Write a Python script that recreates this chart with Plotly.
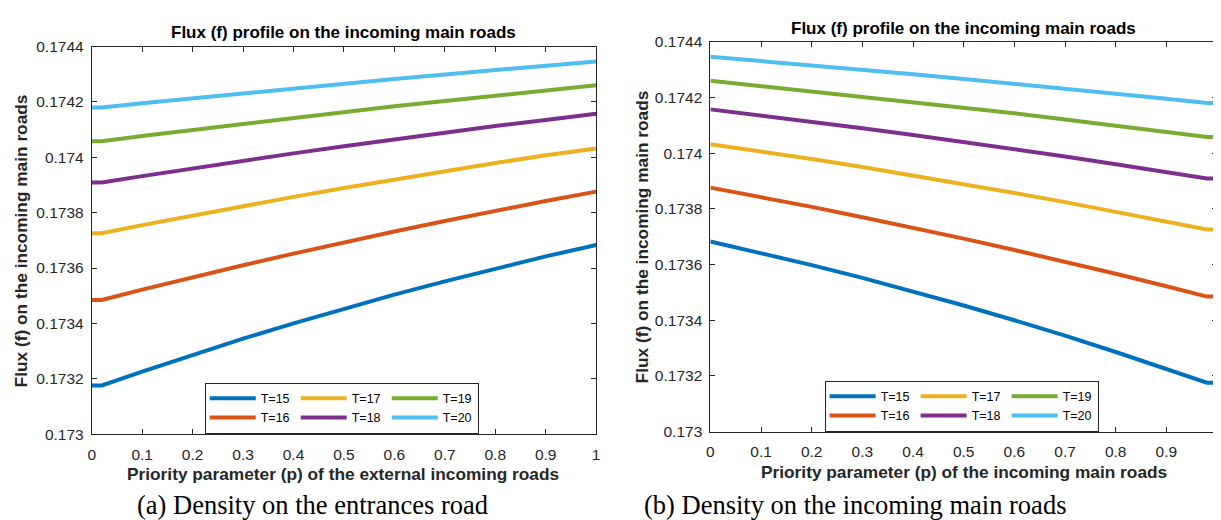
import plotly.graph_objects as go

# ---------------- data ----------------
p_left = [0.0, 0.02, 0.1, 0.2, 0.3, 0.4, 0.5, 0.6, 0.7, 0.8, 0.9, 1.0]
f_left_T15 = [0.173176, 0.173176, 0.173226, 0.173286, 0.173345, 0.1734, 0.173453, 0.173504, 0.173552, 0.173598, 0.173642, 0.173683]
f_left_T16 = [0.173485, 0.173485, 0.173522, 0.173567, 0.17361, 0.173652, 0.173693, 0.173732, 0.17377, 0.173807, 0.173842, 0.173876]
f_left_T17 = [0.173726, 0.173726, 0.173755, 0.17379, 0.173824, 0.173857, 0.173889, 0.17392, 0.17395, 0.173979, 0.174007, 0.174032]
f_left_T18 = [0.173909, 0.173909, 0.173932, 0.17396, 0.173988, 0.174014, 0.17404, 0.174065, 0.174089, 0.174113, 0.174135, 0.174157]
f_left_T19 = [0.174058, 0.174058, 0.174077, 0.174099, 0.174121, 0.174143, 0.174163, 0.174184, 0.174203, 0.174222, 0.174241, 0.17426]
f_left_T20 = [0.17418, 0.17418, 0.174195, 0.174213, 0.174231, 0.174249, 0.174266, 0.174283, 0.174299, 0.174315, 0.174331, 0.174346]

p_right = [0.0, 0.1, 0.2, 0.3, 0.4, 0.5, 0.6, 0.7, 0.8, 0.9, 0.98, 1.0]
f_right_T15 = [0.173683, 0.173642, 0.173598, 0.173552, 0.173504, 0.173453, 0.1734, 0.173345, 0.173286, 0.173226, 0.173176, 0.173176]
f_right_T16 = [0.173876, 0.173842, 0.173807, 0.17377, 0.173732, 0.173693, 0.173652, 0.17361, 0.173567, 0.173522, 0.173485, 0.173485]
f_right_T17 = [0.174032, 0.174007, 0.173979, 0.17395, 0.17392, 0.173889, 0.173857, 0.173824, 0.17379, 0.173755, 0.173726, 0.173726]
f_right_T18 = [0.174157, 0.174135, 0.174113, 0.174089, 0.174065, 0.17404, 0.174014, 0.173988, 0.17396, 0.173932, 0.173909, 0.173909]
f_right_T19 = [0.17426, 0.174241, 0.174222, 0.174203, 0.174184, 0.174163, 0.174143, 0.174121, 0.174099, 0.174077, 0.174058, 0.174058]
f_right_T20 = [0.174346, 0.174331, 0.174315, 0.174299, 0.174283, 0.174266, 0.174249, 0.174231, 0.174213, 0.174195, 0.17418, 0.17418]

series_names = ["T=15", "T=16", "T=17", "T=18", "T=19", "T=20"]
x_tick_vals = [0, 0.1, 0.2, 0.3, 0.4, 0.5, 0.6, 0.7, 0.8, 0.9, 1]
x_tick_text = ["0", "0.1", "0.2", "0.3", "0.4", "0.5", "0.6", "0.7", "0.8", "0.9", "1"]
y_tick_vals = [0.173, 0.1732, 0.1734, 0.1736, 0.1738, 0.174, 0.1742, 0.1744]
y_tick_text = ["0.173", "0.1732", "0.1734", "0.1736", "0.1738", "0.174", "0.1742", "0.1744"]

title_text = "Flux (f) profile on the incoming main roads"
ylabel_text = "Flux (f) on the incoming main roads"
xlabel_left = "Priority parameter (p) of the external incoming roads"
xlabel_right = "Priority parameter (p) of the incoming main roads"
caption_left = "(a) Density on the entrances road"
caption_right = "(b) Density on the incoming main roads"

# ---------------- style ----------------
colors = ["#0072BD", "#D95319", "#EDB120", "#7E2F8E", "#77AC30", "#4DBEEE"]
groups = [1, 1, 2, 2, 3, 3]
AX = "#262626"
SANS = "Liberation Sans, Arial, sans-serif"
SERIF = "Liberation Serif, Times New Roman, serif"
W, H = 1221, 520
OFF = 8  # page body margin: page pixel = figure pixel + 8

fig = go.Figure()
left_sets = [f_left_T15, f_left_T16, f_left_T17, f_left_T18, f_left_T19, f_left_T20]
right_sets = [f_right_T15, f_right_T16, f_right_T17, f_right_T18, f_right_T19, f_right_T20]
for i, (name, ys) in enumerate(zip(series_names, left_sets)):
    fig.add_trace(go.Scatter(x=p_left, y=ys, mode="lines", name=name,
                             line=dict(color=colors[i], width=4),
                             xaxis="x", yaxis="y", legend="legend",
                             legendgroup="L%d" % groups[i]))
for i, (name, ys) in enumerate(zip(series_names, right_sets)):
    fig.add_trace(go.Scatter(x=p_right, y=ys, mode="lines", name=name,
                             line=dict(color=colors[i], width=4),
                             xaxis="x2", yaxis="y2", legend="legend2",
                             legendgroup="R%d" % groups[i]))


def px_x(v):
    return (v - OFF) / W


def px_y(v):
    return 1 - (v - OFF) / H


def xaxis_style(domain, anchor):
    return dict(domain=domain, anchor=anchor, range=[0, 1], tickvals=x_tick_vals, ticktext=x_tick_text,
                ticks="inside", ticklen=5, tickcolor=AX, tickwidth=1, showline=True, linecolor=AX,
                linewidth=1, mirror="ticks", showgrid=False, zeroline=False,
                tickfont=dict(family=SANS, size=15.5, color=AX), ticklabelstandoff=6)


def yaxis_style(domain, anchor):
    return dict(domain=domain, anchor=anchor, range=[0.173, 0.1744], tickvals=y_tick_vals, ticktext=y_tick_text,
                ticks="inside", ticklen=5, tickcolor=AX, tickwidth=1, showline=True, linecolor=AX,
                linewidth=1, mirror="ticks", showgrid=False, zeroline=False,
                tickfont=dict(family=SANS, size=15.5, color=AX), ticklabelstandoff=4)


legend_common = dict(orientation="h", traceorder="grouped", bgcolor="white", bordercolor=AX,
                     borderwidth=1, font=dict(family=SANS, size=12.5, color="#000000"),
                     xanchor="left", yanchor="top", entrywidth=30, itemwidth=46, tracegroupgap=0)

fig.update_layout(
    width=W, height=H, margin=dict(l=0, r=0, t=0, b=0),
    paper_bgcolor="white", plot_bgcolor="white",
    xaxis=xaxis_style([px_x(88.3), px_x(596)], "y"),
    yaxis=yaxis_style([px_y(439.3), px_y(38.5)], "x"),
    xaxis2=xaxis_style([px_x(711), px_x(1221)], "y2"),
    yaxis2=yaxis_style([px_y(436.7), px_y(33.5)], "x2"),
    legend=dict(x=px_x(202), y=px_y(386), **legend_common),
    legend2=dict(x=px_x(826), y=px_y(384), **legend_common),
    showlegend=True,
)

bold = dict(family=SANS, size=17, color="#000000")
lab = dict(family=SANS, size=17.3, color=AX)
cap = dict(family=SERIF, size=26.5, color="#000000")
annots = [
    dict(text="<b>%s</b>" % title_text, x=px_x(342), y=px_y(24), font=bold),
    dict(text="<b>%s</b>" % title_text, x=px_x(966), y=px_y(20), font=bold),
    dict(text="<b>%s</b>" % xlabel_left, x=px_x(341), y=px_y(480), font=lab),
    dict(text="<b>%s</b>" % xlabel_right, x=px_x(966), y=px_y(478), font=lab),
    dict(text="<b>%s</b>" % ylabel_text, x=px_x(18), y=px_y(239), textangle=-90, font=lab),
    dict(text="<b>%s</b>" % ylabel_text, x=px_x(642), y=px_y(235), textangle=-90, font=lab),
    dict(text=caption_left, x=px_x(310), y=px_y(513), font=cap),
    dict(text=caption_right, x=px_x(857), y=px_y(513), font=cap),
]
for a in annots:
    a.update(xref="paper", yref="paper", xanchor="center", yanchor="middle", showarrow=False)
fig.update_layout(annotations=annots)

fig.write_html("out.html")
